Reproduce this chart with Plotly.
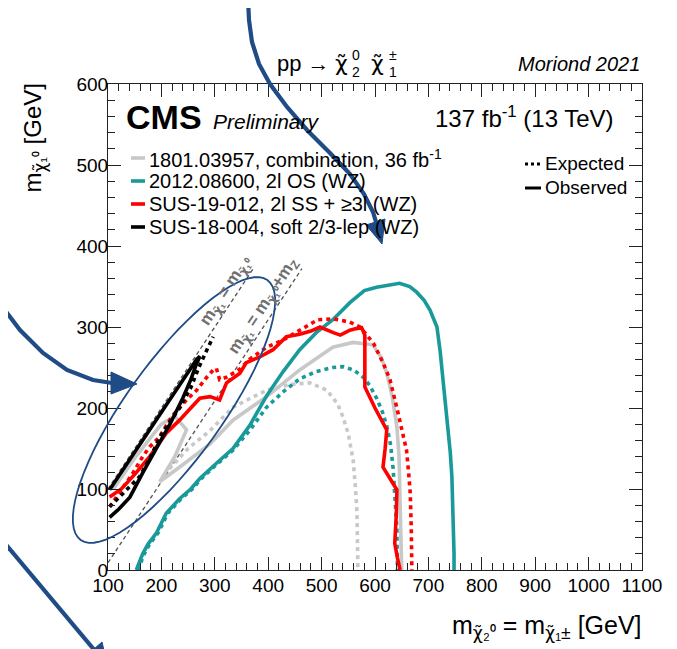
import math
import plotly.graph_objects as go

# ---------------- data (GeV) ----------------
x_ticks = [100, 200, 300, 400, 500, 600, 700, 800, 900, 1000, 1100]
y_ticks = [0, 100, 200, 300, 400, 500, 600]

# 2012.08600, 2l OS (WZ)
teal_obs_x = [153, 165, 175, 191, 209, 234, 255, 272, 300, 334, 365, 397, 428, 459, 490, 521, 553, 580, 603, 625,
              646, 665, 678, 692, 703, 711, 716, 722, 727, 733, 737, 741, 744, 746, 747, 748, 748]
teal_obs_y = [0, 20, 32, 46, 70, 88, 100, 113, 130, 150, 178, 215, 245, 272, 293, 309, 330, 345, 349, 352,
              354, 350, 343, 333, 321, 308, 300, 270, 238, 205, 177, 145, 115, 80, 50, 20, 0]
teal_exp_x = [156, 168, 178, 194, 212, 237, 258, 275, 303, 334, 365, 397, 428, 459, 490, 521, 540, 560, 578, 590,
              603, 614, 622, 629, 634, 638, 641, 642]
teal_exp_y = [0, 20, 32, 46, 70, 88, 100, 113, 130, 148, 172, 201, 220, 236, 245, 250, 251, 247, 238, 228,
              212, 195, 178, 155, 125, 90, 50, 0]

# 1801.03957, combination, 36 fb-1
gray_obs_x = [110, 150, 178, 200, 225, 247, 225, 197, 240, 290, 334, 397, 459, 521, 559, 596, 612, 622, 632, 641,
              645, 647, 649, 650]
gray_obs_y = [100, 138, 162, 180, 190, 173, 140, 109, 130, 155, 185, 214, 247, 275, 281, 278, 262, 243, 215, 177,
              140, 95, 50, 0]
gray_exp_x = [215, 250, 291, 334, 397, 440, 478, 510, 530, 540, 550, 559, 563, 566, 567, 568]
gray_exp_y = [125, 150, 172, 201, 222, 229, 231, 222, 205, 189, 168, 136, 105, 74, 40, 0]

# SUS-19-012, 2l SS + >=3l (WZ)
red_obs_x = [103, 125, 150, 178, 209, 234, 255, 272, 291, 309, 322, 347, 359, 384, 409, 434, 459, 480, 497, 510,
             522, 535, 553, 565, 575, 581, 581, 581, 600, 615, 622, 619, 615, 628, 641, 640, 637, 642, 647]
red_obs_y = [90, 100, 118, 140, 169, 185, 200, 212, 214, 210, 231, 243, 256, 263, 272, 288, 291, 295, 300, 296,
             293, 290, 296, 298, 299, 290, 260, 226, 200, 181, 173, 150, 127, 113, 99, 70, 33, 15, 0]
red_exp_x = [103, 121, 146, 165, 178, 196, 220, 247, 266, 285, 297, 303, 309, 322, 347, 365, 397, 428, 459, 493,
             522, 553, 572, 597, 615, 628, 641, 652, 659, 663, 666, 668, 669]
red_exp_y = [78, 95, 119, 140, 152, 164, 190, 210, 222, 238, 247, 249, 235, 238, 248, 260, 275, 284, 296, 309,
             310, 306, 300, 280, 256, 235, 200, 170, 148, 120, 95, 50, 0]

# SUS-18-004, soft 2/3-lep (WZ)
black_obs_x = [103, 130, 160, 190, 220, 245, 266, 272, 266, 255, 240, 216, 190, 165, 141, 120, 103]
black_obs_y = [99, 126, 156, 186, 216, 241, 260, 264, 255, 235, 212, 180, 150, 120, 90, 75, 65]
black_exp_x = [103, 130, 159, 180, 197, 215, 234, 255, 270, 284, 297]
black_exp_y = [78, 96, 115, 140, 164, 182, 200, 225, 250, 270, 288]

# kinematic reference lines
diag_x = [100, 372]
diag_y = [100, 372]
mz = 91
diagz_x = [100, 463]
diagz_y = [100 - mz, 463 - mz]

legend_labels = ["1801.03957, combination, 36 fb<sup>-1</sup>",
                 "2012.08600, 2l OS (WZ)",
                 "SUS-19-012, 2l SS + ≥3l (WZ)",
                 "SUS-18-004, soft 2/3-lep (WZ)"]

# ---------------- style ----------------
W, H = 677, 649
OFF = 8  # page body margin of the html page
L, R, T, B = 108, 642, 84, 570  # plot area in page pixels
TEAL = "#19999a"
GRAY = "#c8c8c8"
RED = "#ff0000"
BLACK = "#000000"
BLUE = "#1f4b87"
FONT = "Liberation Sans, Arial, Helvetica, sans-serif"
GFONT = "DejaVu Sans"
LW = 3.6
DOT = "4px,4px"
CHI = "<span style='font-family:DejaVu Sans'>χ̃</span>"


def px(xp):
    return (xp - L) / (R - L)


def py(yp):
    return (B - yp) / (B - T)


fig = go.Figure()


def add_line(x, y, color, dash=None, width=LW):
    fig.add_trace(go.Scatter(x=x, y=y, mode="lines", showlegend=False, hoverinfo="skip",
                             line=dict(color=color, width=width, dash=dash or "solid")))


add_line(diag_x, diag_y, "#505050", dash="4px,3px", width=1.3)
add_line(diagz_x, diagz_y, "#505050", dash="4px,3px", width=1.3)
add_line(gray_exp_x, gray_exp_y, GRAY, DOT)
add_line(gray_obs_x, gray_obs_y, GRAY)
add_line(teal_exp_x, teal_exp_y, TEAL, DOT)
add_line(teal_obs_x, teal_obs_y, TEAL)
add_line(red_exp_x, red_exp_y, RED, DOT)
add_line(red_obs_x, red_obs_y, RED)
add_line(black_exp_x, black_exp_y, BLACK, DOT)
add_line(black_obs_x, black_obs_y, BLACK)

ann = []


def text(xp, yp, s, size, xanchor="left", yanchor="middle", color="black", angle=0, ref="px", family=FONT):
    if ref == "px":
        xx, yy, xr, yr = px(xp), py(yp), "paper", "paper"
    else:
        xx, yy, xr, yr = xp, yp, "x", "y"
    ann.append(dict(x=xx, y=yy, xref=xr, yref=yr, text=s, showarrow=False, xanchor=xanchor,
                    yanchor=yanchor, textangle=angle, font=dict(size=size, color=color, family=family)))


# header texts
text(124, 117, "<b>CMS</b>", 34)
text(211, 122, "<i>Preliminary</i>", 21)
text(616, 117, "137 fb<sup>-1</sup> (13 TeV)", 24, xanchor="right")
text(642, 64, "<i>Moriond 2021</i>", 20, xanchor="right")
# process title with stacked indices
text(275, 63, "pp →", 22)
text(333, 63, "χ̃", 22, family=GFONT)
text(350, 55, "0", 14)
text(350, 72, "2", 14)
text(369, 63, "χ̃", 22, family=GFONT)
text(387, 55, "±", 14)
text(387, 72, "1", 14)

# legend
shapes = []
rows = [158, 181, 204, 227]
cols = [GRAY, TEAL, RED, BLACK]
for r, c, lab in zip(rows, cols, legend_labels):
    shapes.append(dict(type="line", xref="paper", yref="paper", x0=px(131), x1=px(145), y0=py(r), y1=py(r),
                       line=dict(color=c, width=LW)))
    text(147, r, lab, 20)
shapes.append(dict(type="line", xref="paper", yref="paper", x0=px(525), x1=px(541), y0=py(164), y1=py(164),
                   line=dict(color="black", width=3, dash="3px,3px")))
text(543, 163, "Expected", 19)
shapes.append(dict(type="line", xref="paper", yref="paper", x0=px(525), x1=px(541), y0=py(188), y1=py(188),
                   line=dict(color="black", width=3)))
text(543, 187, "Observed", 19)

# axis titles
text(34, 82, f"m<sub>{CHI}₁⁰</sub> [GeV]", 24, xanchor="center", yanchor="top", angle=-90)
text(644, 627, f"m<sub>{CHI}₂⁰</sub> = m<sub>{CHI}₁±</sub> [GeV]", 25, xanchor="right")

# reference line labels
text(322, 344, f"<b>m<sub>{CHI}₁</sub> = m<sub>{CHI}₁⁰</sub></b>", 17, xanchor="center", color="#707070",
     angle=-56.7, ref="data")
text(392, 326, f"<b>m<sub>{CHI}₁</sub> = m<sub>{CHI}₁⁰</sub>+m<sub>Z</sub></b>", 17, xanchor="center",
     color="#707070", angle=-56.7, ref="data")

# ---------------- overlay drawings (ellipse + arrows), pixel coordinates ----------------
cx, cy, a, b, th = 174, 410, 160, 48, math.radians(54.3)
pts = []
for i in range(73):
    t = 2 * math.pi * i / 72
    ux, uy = a * math.cos(t), b * math.sin(t)
    xx = cx + ux * math.cos(th) - uy * math.sin(th)
    yy = cy - (ux * math.sin(th) + uy * math.cos(th))
    pts.append((px(xx), py(yy)))
path = "M " + " L ".join(f"{x:.5f},{y:.5f}" for x, y in pts) + " Z"
shapes.append(dict(type="path", xref="paper", yref="paper", path=path, line=dict(color=BLUE, width=1.8),
                   layer="above"))


def polyline(points, width=4.2):
    p = "M " + " L ".join(f"{px(x):.5f},{py(y):.5f}" for x, y in points)
    shapes.append(dict(type="path", xref="paper", yref="paper", path=p, line=dict(color=BLUE, width=width),
                       layer="above"))


def tri(points):
    p = "M " + " L ".join(f"{px(x):.5f},{py(y):.5f}" for x, y in points) + " Z"
    shapes.append(dict(type="path", xref="paper", yref="paper", path=p, fillcolor=BLUE,
                       line=dict(color=BLUE, width=1), layer="above"))


polyline([(248, -2), (249, 20), (252, 42), (259, 64), (270, 84), (287, 107), (307, 130), (330, 153), (350, 174),
          (364, 194), (373, 212), (376, 222)])
tri([(385, 219), (366, 225), (382, 244)])
polyline([(-2, 301), (20, 330), (43, 353), (67, 370), (93, 380), (112, 383)])
tri([(111, 372), (111, 394), (137, 384)])
polyline([(-2, 535), (96, 652)])
tri([(102, 642), (86, 656), (108, 667)])

fig.update_layout(
    width=W - OFF, height=H - OFF,
    margin=dict(l=L - OFF, r=W - R, t=T - OFF, b=H - B, autoexpand=False),
    paper_bgcolor="white", plot_bgcolor="white",
    annotations=ann, shapes=shapes,
    font=dict(family=FONT, size=19, color="black"),
)
axis_common = dict(showgrid=False, zeroline=False, showline=True, linecolor="#222", linewidth=1.2,
                   mirror="ticks", ticks="inside", ticklen=13, tickwidth=1, tickcolor="#222",
                   tickfont=dict(size=19, family=FONT, color="black"))
fig.update_xaxes(range=[100, 1100], tickvals=x_ticks, ticktext=[str(v) for v in x_ticks], ticklabelstandoff=-2,
                 minor=dict(dtick=20, ticklen=7, ticks="inside", tickcolor="#222"), **axis_common)
fig.update_yaxes(range=[0, 600], tickvals=y_ticks, ticktext=[str(v) for v in y_ticks], ticklabelstandoff=-5,
                 minor=dict(dtick=20, ticklen=7, ticks="inside", tickcolor="#222"), **axis_common)

fig.write_html("out.html")
